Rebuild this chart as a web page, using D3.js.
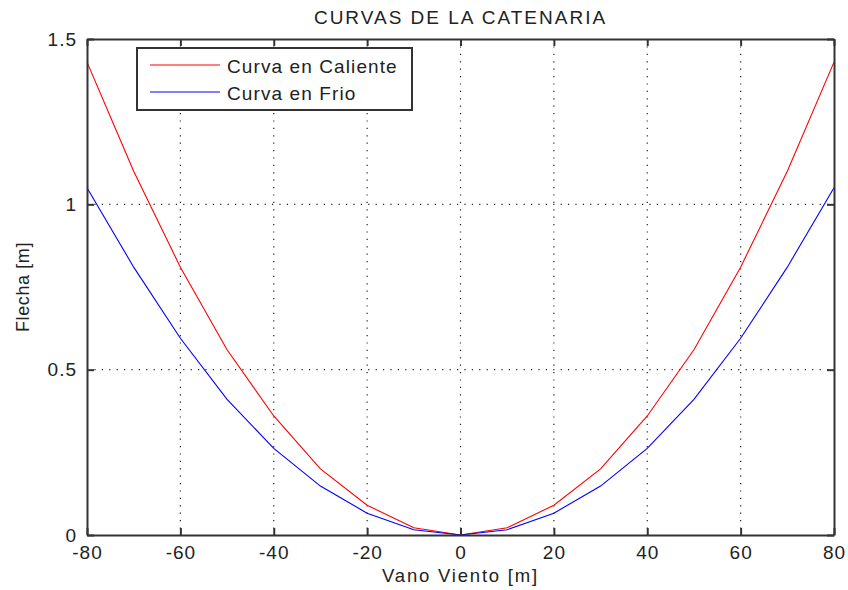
<!DOCTYPE html>
<html>
<head>
<meta charset="utf-8">
<script src="https://cdn.jsdelivr.net/npm/d3@7"></script>
<style>
  body { margin: 0; background: #fff; }
  text { font-family: "Liberation Sans", Arial, sans-serif; fill: #222; }
</style>
</head>
<body>
<svg id="chart" width="848" height="590"></svg>
<script>
// vano (m)
const vano = [-80, -70, -60, -50, -40, -30, -20, -10, 0, 10, 20, 30, 40, 50, 60, 70, 80]
// flecha en caliente (m)
const caliente = [1.43, 1.10, 0.81, 0.56, 0.36, 0.20, 0.09, 0.022, 0, 0.022, 0.09, 0.20, 0.36, 0.56, 0.81, 1.10, 1.43]
// flecha en frio (m)
const frio = [1.05, 0.81, 0.595, 0.41, 0.262, 0.148, 0.066, 0.016, 0, 0.016, 0.066, 0.148, 0.262, 0.41, 0.595, 0.81, 1.05]

const xTicks = [-80, -60, -40, -20, 0, 20, 40, 60, 80]
const yTicks = [0, 0.5, 1, 1.5]

const series = [
    { name: 'Curva en Caliente', color: '#ff0000', values: caliente },
    { name: 'Curva en Frio', color: '#0000ff', values: frio }
]

const margin = { left: 87, right: 14, top: 39, bottom: 55 }
const width = 848, height = 590

const svg = d3.select('#chart')

const x = d3.scaleLinear().domain([-80, 80]).range([margin.left, width - margin.right])
const y = d3.scaleLinear().domain([0, 1.5]).range([height - margin.bottom, margin.top])

const x0 = x.range()[0], x1 = x.range()[1]
const y0 = y.range()[0], y1 = y.range()[1]

// grid
const grid = svg.append('g').attr('stroke', '#222').attr('stroke-width', 1.2)
    .attr('stroke-dasharray', '1.2,6.2').attr('stroke-linecap', 'butt')

grid.selectAll('.vgrid').data(xTicks.slice(1, -1)).enter().append('line')
    .attr('x1', (d) => x(d)).attr('x2', (d) => x(d))
    .attr('y1', y1).attr('y2', y0)

grid.selectAll('.hgrid').data(yTicks.slice(1, -1)).enter().append('line')
    .attr('x1', x0).attr('x2', x1)
    .attr('y1', (d) => y(d)).attr('y2', (d) => y(d))

// curves
const line = d3.line()
    .x((d, i) => x(vano[i]))
    .y((d) => y(d))

svg.selectAll('.curve').data(series).enter().append('path')
    .attr('class', 'curve')
    .attr('fill', 'none')
    .attr('stroke', (d) => d.color)
    .attr('stroke-width', 1.1)
    .attr('d', (d) => line(d.values))

// axes, matlab style (ticks inside, all four sides)
const axisColor = '#333'
const tickLen = 7

const xAxisB = d3.axisBottom(x).tickValues(xTicks).tickSizeInner(-tickLen).tickSizeOuter(0)
    .tickPadding(11).tickFormat((d) => String(d))
const xAxisT = d3.axisTop(x).tickValues(xTicks).tickSizeInner(-tickLen).tickSizeOuter(0).tickFormat('')
const yAxisL = d3.axisLeft(y).tickValues(yTicks).tickSizeInner(-tickLen).tickSizeOuter(0)
    .tickPadding(10).tickFormat((d) => String(d))
const yAxisR = d3.axisRight(y).tickValues(yTicks).tickSizeInner(-tickLen).tickSizeOuter(0).tickFormat('')

const axes = [
    svg.append('g').attr('transform', `translate(0,${y0})`).call(xAxisB),
    svg.append('g').attr('transform', `translate(0,${y1})`).call(xAxisT),
    svg.append('g').attr('transform', `translate(${x0},0)`).call(yAxisL),
    svg.append('g').attr('transform', `translate(${x1},0)`).call(yAxisR)
]

axes.forEach((g) => {
    g.select('.domain').attr('stroke', axisColor).attr('stroke-width', 2)
    g.selectAll('.tick line').attr('stroke', axisColor).attr('stroke-width', 2)
    g.selectAll('.tick text').attr('font-size', 19).attr('fill', '#222')
        .attr('letter-spacing', 1)
        .attr('font-family', '"Liberation Sans", Arial, sans-serif')
})

// titles
svg.append('text').attr('x', (x0 + x1) / 2).attr('y', 24)
    .attr('text-anchor', 'middle').attr('font-size', 19).attr('letter-spacing', 2)
    .text('CURVAS DE LA CATENARIA')

svg.append('text').attr('x', (x0 + x1) / 2).attr('y', 582)
    .attr('text-anchor', 'middle').attr('font-size', 18.5).attr('letter-spacing', 1.8)
    .text('Vano Viento [m]')

svg.append('text')
    .attr('transform', `translate(29,${(y0 + y1) / 2}) rotate(-90)`)
    .attr('text-anchor', 'middle').attr('font-size', 18).attr('letter-spacing', 0.6)
    .text('Flecha [m]')

// legend
const legend = svg.append('g').attr('transform', 'translate(137,48)')

legend.append('rect')
    .attr('width', 275).attr('height', 62)
    .attr('fill', '#fff').attr('stroke', axisColor).attr('stroke-width', 2)

const entries = legend.selectAll('.entry').data(series).enter().append('g')
    .attr('transform', (d, i) => `translate(0,${17 + i * 27})`)

entries.append('line')
    .attr('x1', 13).attr('x2', 83)
    .attr('stroke', (d) => d.color).attr('stroke-width', 1.1)

entries.append('text')
    .attr('x', 90).attr('y', 8).attr('font-size', 19).attr('letter-spacing', 1.1)
    .text((d) => d.name)
</script>
</body>
</html>
